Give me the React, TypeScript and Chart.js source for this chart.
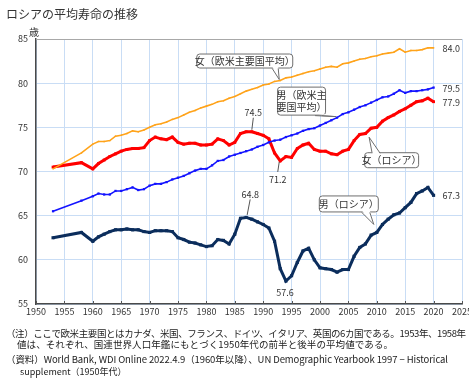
import React, { useEffect, useRef } from "react";
import { Chart, registerables } from "chart.js";
Chart.register(...registerables);

const years = [
  1953, 1958, 1960, 1961, 1962, 1963, 1964, 1965, 1966, 1967, 1968, 1969,
  1970, 1971, 1972, 1973, 1974, 1975, 1976, 1977, 1978, 1979, 1980, 1981,
  1982, 1983, 1984, 1985, 1986, 1987, 1988, 1989, 1990, 1991, 1992, 1993,
  1994, 1995, 1996, 1997, 1998, 1999, 2000, 2001, 2002, 2003, 2004, 2005,
  2006, 2007, 2008, 2009, 2010, 2011, 2012, 2013, 2014, 2015, 2016, 2017,
  2018, 2019, 2020,
];

const femaleWest = [
  70.3, 72.1, 73.1, 73.4, 73.4, 73.5, 74.0, 74.1, 74.3, 74.6, 74.5, 74.7,
  75.0, 75.3, 75.4, 75.6, 75.9, 76.1, 76.4, 76.7, 76.9, 77.2, 77.4, 77.6,
  77.9, 78.0, 78.3, 78.5, 78.8, 79.1, 79.3, 79.5, 79.8, 79.9, 80.2, 80.3,
  80.6, 80.7, 80.9, 81.1, 81.3, 81.4, 81.6, 81.8, 81.9, 81.8, 82.2, 82.3,
  82.5, 82.7, 82.8, 83.0, 83.1, 83.3, 83.4, 83.5, 83.9, 83.5, 83.7, 83.7,
  83.8, 84.0, 84.0,
];

const maleWest = [
  65.5, 66.7, 67.2, 67.5, 67.4, 67.4, 67.8, 67.8, 68.0, 68.2, 67.9, 68.0,
  68.4, 68.6, 68.6, 68.8, 69.1, 69.3, 69.5, 69.8, 70.1, 70.3, 70.3, 70.7,
  71.2, 71.3, 71.7, 71.9, 72.1, 72.3, 72.5, 72.8, 73.0, 73.3, 73.5, 73.6,
  73.9, 74.1, 74.3, 74.6, 74.8, 74.9, 75.2, 75.5, 75.8, 76.1, 76.5, 76.7,
  77.0, 77.3, 77.5, 77.8, 78.1, 78.4, 78.5, 78.8, 79.2, 78.9, 79.1, 79.1,
  79.2, 79.3, 79.5,
];

const femaleRussia = [
  70.5, 71.0, 70.3, 70.9, 71.3, 71.7, 72.0, 72.3, 72.5, 72.6, 72.6, 72.7,
  73.5, 73.9, 73.7, 73.6, 73.9, 73.3, 73.1, 73.2, 73.2, 73.0, 73.0, 73.1,
  73.7, 73.5, 73.0, 73.3, 74.3, 74.5, 74.5, 74.3, 74.1, 73.7, 72.1, 71.2,
  71.7, 71.6, 72.6, 73.0, 73.2, 72.5, 72.3, 72.3, 72.0, 71.9, 72.3, 72.5,
  73.5, 74.2, 74.3, 74.9, 75.0, 75.7, 76.1, 76.4, 76.8, 77.1, 77.5, 77.9,
  78.0, 78.3, 77.9,
];

const maleRussia = [
  62.5, 63.1, 62.1, 62.6, 62.9, 63.2, 63.4, 63.4, 63.5, 63.4, 63.4, 63.2,
  63.1, 63.3, 63.3, 63.3, 63.2, 62.5, 62.3, 62.0, 61.9, 61.7, 61.5, 61.6,
  62.3, 62.2, 61.8, 62.9, 64.7, 64.8, 64.6, 64.3, 64.0, 63.6, 62.1, 59.0,
  57.6, 58.2, 59.7, 61.0, 61.3, 60.0, 59.1, 59.0, 58.9, 58.6, 58.9, 58.9,
  60.4, 61.4, 61.8, 62.8, 63.1, 64.0, 64.6, 65.1, 65.3, 65.9, 66.5, 67.5,
  67.8, 68.2, 67.3,
];

const seriesNames = ["女（欧米主要国平均）", "男（欧米主要国平均）", "女（ロシア）", "男（ロシア）"];
const xMin = 1950;
const xMax = 2025;
const xStep = 5;
const yMin = 55;
const yMax = 85;
const yStep = 5;

const titleText = "ロシアの平均寿命の推移";
const unitText = "歳";
const noteLines = [
  "（注）ここで欧米主要国とはカナダ、米国、フランス、ドイツ、イタリア、英国の6カ国である。1953年、1958年",
  "値は、それぞれ、国連世界人口年鑑にもとづく1950年代の前半と後半の平均値である。",
  "（資料）World Bank, WDI Online 2022.4.9（1960年以降）、UN Demographic Yearbook 1997 − Historical",
  "supplement（1950年代）",
];

const FONT = "'Noto Sans CJK JP', 'Noto Sans', 'Liberation Sans', sans-serif";
const TEXT = "#333333";

function toPoints(vals: number[]) {
  return years.map((yr, i) => ({ x: yr, y: vals[i] }));
}

function pt(chart: any, dsIndex: number, year: number) {
  const i = years.indexOf(year);
  const el = chart.getDatasetMeta(dsIndex).data[i];
  return { x: el.x, y: el.y };
}

function fitText(ctx: CanvasRenderingContext2D, s: string, x: number, y: number, x2: number) {
  const c: any = ctx;
  c.letterSpacing = "0px";
  const w = ctx.measureText(s).width;
  const n = Array.from(s).length;
  const sp = (x2 - x - w) / Math.max(1, n - 1);
  c.letterSpacing = `${sp}px`;
  ctx.fillText(s, x, y);
  c.letterSpacing = "0px";
}

function drawCallout(
  ctx: CanvasRenderingContext2D,
  lines: string[],
  box: { l: number; t: number; r: number; b: number },
  b1: [number, number],
  b2: [number, number],
  tip: [number, number],
  side: "top" | "bottom"
) {
  ctx.save();
  ctx.lineWidth = 1;
  ctx.strokeStyle = "#6e6e6e";
  ctx.fillStyle = "#ffffff";
  ctx.beginPath();
  (ctx as any).roundRect(box.l + 0.5, box.t + 0.5, box.r - box.l, box.b - box.t, 3);
  ctx.fill();
  ctx.stroke();
  const inset = side === "bottom" ? -1.5 : 1.5;
  ctx.beginPath();
  ctx.moveTo(b1[0], b1[1] + inset);
  ctx.lineTo(tip[0], tip[1]);
  ctx.lineTo(b2[0], b2[1] + inset);
  ctx.closePath();
  ctx.fill();
  ctx.beginPath();
  ctx.moveTo(b1[0], b1[1] + 0.5);
  ctx.lineTo(tip[0], tip[1]);
  ctx.lineTo(b2[0], b2[1] + 0.5);
  ctx.stroke();
  ctx.fillStyle = TEXT;
  ctx.font = `10px ${FONT}`;
  ctx.textAlign = "center";
  ctx.textBaseline = "middle";
  const cx = (box.l + box.r) / 2 + 0.5;
  const lh = 12.5;
  const cy = (box.t + box.b) / 2 + 0.5;
  lines.forEach((s, k) => {
    ctx.fillText(s, cx, cy + (k - (lines.length - 1) / 2) * lh);
  });
  ctx.restore();
}

const overlay = {
  id: "overlay",
  afterDraw(chart: any) {
    const { ctx, chartArea } = chart;
    const xs = chart.scales.x;
    ctx.save();
    ctx.strokeStyle = "#a8a8a8";
    ctx.lineWidth = 1;
    ctx.beginPath();
    ctx.moveTo(chartArea.left, chartArea.top + 0.5);
    ctx.lineTo(chartArea.right, chartArea.top + 0.5);
    ctx.stroke();
    ctx.strokeStyle = "#555555";
    xs.ticks.forEach((t: any) => {
      const px = Math.round(xs.getPixelForValue(t.value)) + 0.5;
      ctx.beginPath();
      ctx.moveTo(px, chartArea.bottom);
      ctx.lineTo(px, chartArea.bottom - 3);
      ctx.stroke();
    });

    ctx.fillStyle = TEXT;
    ctx.font = `9px ${FONT}`;
    ctx.textBaseline = "middle";
    ctx.textAlign = "left";
    const last = years[years.length - 1];
    [0, 1, 2, 3].forEach((d) => {
      const p = pt(chart, d, last);
      const v = chart.data.datasets[d].data[years.length - 1].y;
      ctx.fillText(v.toFixed(1), p.x + 9, p.y + 0.5);
    });
    ctx.textAlign = "center";
    const fp = pt(chart, 2, 1988);
    ctx.fillText(femaleRussia[years.indexOf(1988)].toFixed(1), fp.x + 1.5, fp.y - 19.5);
    const fm = pt(chart, 2, 1993);
    ctx.fillText(femaleRussia[years.indexOf(1993)].toFixed(1), fm.x - 2.5, fm.y + 18.5);
    const mp = pt(chart, 3, 1987);
    ctx.fillText(maleRussia[years.indexOf(1987)].toFixed(1), mp.x + 4, mp.y - 23);
    const mm = pt(chart, 3, 1994);
    ctx.fillText(maleRussia[years.indexOf(1994)].toFixed(1), mm.x - 1, mm.y + 11.5);
    ctx.strokeStyle = "#555555";
    ctx.lineWidth = 1;
    ctx.beginPath();
    ctx.moveTo(fp.x + 1.5, fp.y - 14);
    ctx.lineTo(fp.x, fp.y - 2);
    ctx.moveTo(fm.x - 1, fm.y + 1);
    ctx.lineTo(fm.x - 2.5, fm.y + 11);
    ctx.moveTo(mp.x + 4, mp.y - 18);
    ctx.lineTo(mp.x + 1, mp.y - 2.5);
    ctx.stroke();

    const a = pt(chart, 0, 1993);
    drawCallout(ctx, [seriesNames[0]], { l: a.x - 84, t: a.y - 27, r: a.x + 12, b: a.y - 13 },
      [a.x - 8, a.y - 12.5], [a.x - 2, a.y - 12.5], [a.x - 1, a.y - 1], "bottom");
    const b = pt(chart, 1, 2003);
    drawCallout(ctx, ["男（欧米主", "要国平均）"], { l: b.x - 60, t: b.y - 31, r: b.x - 12, b: b.y - 3 },
      [b.x - 22, b.y - 2.5], [b.x - 15, b.y - 2.5], [b.x - 1, b.y - 1], "bottom");
    const c = pt(chart, 2, 2009);
    drawCallout(ctx, [seriesNames[2]], { l: c.x - 7, t: c.y + 24, r: c.x + 47, b: c.y + 39 },
      [c.x + 1, c.y + 24.5], [c.x + 9, c.y + 24.5], [c.x - 2, c.y + 9], "top");
    const dd = pt(chart, 3, 2010);
    drawCallout(ctx, [seriesNames[3]], { l: dd.x - 58, t: dd.y - 37, r: dd.x + 1, b: dd.y - 21 },
      [dd.x - 15, dd.y - 20.5], [dd.x - 7, dd.y - 20.5], [dd.x - 3, dd.y - 8], "bottom");

    ctx.fillStyle = TEXT;
    ctx.textAlign = "left";
    ctx.textBaseline = "middle";
    ctx.font = `12px ${FONT}`;
    ctx.fillText(titleText, 6, 14);
    ctx.font = `10px ${FONT}`;
    ctx.fillText(unitText, 29, 32);
    ctx.font = `9.5px ${FONT}`;
    ctx.fillStyle = "#222222";
    fitText(ctx, noteLines[0], 6, 333, 466);
    fitText(ctx, noteLines[1], 17, 344.5, 393);
    fitText(ctx, noteLines[2], 6, 359, 448);
    ctx.font = `9px ${FONT}`;
    ctx.fillText(noteLines[3], 20, 372);
    ctx.restore();
  },
};

export default function App() {
  const ref = useRef<HTMLCanvasElement | null>(null);
  useEffect(() => {
    if (!ref.current) return;
    const grid = "#c9ddf5";
    const chart = new Chart(ref.current, {
      type: "line",
      data: {
        datasets: [
          {
            label: seriesNames[0],
            data: toPoints(femaleWest),
            borderColor: "#ffa31a",
            backgroundColor: "#ffa31a",
            borderWidth: 1.6,
            pointRadius: 1,
            pointStyle: "rect",
            pointBorderWidth: 0,
            tension: 0,
          },
          {
            label: seriesNames[1],
            data: toPoints(maleWest),
            borderColor: "#1414ff",
            backgroundColor: "#1414ff",
            borderWidth: 1.6,
            pointRadius: 1.6,
            pointStyle: "rect",
            pointBorderWidth: 0,
            tension: 0,
          },
          {
            label: seriesNames[2],
            data: toPoints(femaleRussia),
            borderColor: "#ff0000",
            backgroundColor: "#ff0000",
            borderWidth: 3,
            pointRadius: 2,
            pointStyle: "rect",
            pointBorderWidth: 0,
            tension: 0,
          },
          {
            label: seriesNames[3],
            data: toPoints(maleRussia),
            borderColor: "#0b2d5c",
            backgroundColor: "#0b2d5c",
            borderWidth: 3,
            pointRadius: 2.2,
            pointStyle: "rect",
            pointBorderWidth: 0,
            tension: 0,
          },
        ],
      },
      options: {
        animation: false,
        responsive: false,
        layout: { padding: { top: 39, left: 0, right: 18, bottom: 61 } },
        plugins: { legend: { display: false }, tooltip: { enabled: false } },
        scales: {
          x: {
            type: "linear",
            min: xMin,
            max: xMax,
            afterFit: (s: any) => {
              s.height = 20;
            },
            ticks: {
              stepSize: xStep,
              color: TEXT,
              font: { family: FONT, size: 9 },
              padding: 2,
              maxRotation: 0,
              autoSkip: false,
              callback: (v: any) => String(v),
            },
            grid: { color: grid, drawTicks: false, lineWidth: 1 },
            border: { color: "#4a4a4a", width: 1.5 },
          },
          y: {
            min: yMin,
            max: yMax,
            afterFit: (s: any) => {
              s.width = 36;
            },
            ticks: {
              stepSize: yStep,
              color: TEXT,
              font: { family: FONT, size: 9 },
              padding: 8,
            },
            grid: { color: grid, drawTicks: false, lineWidth: 1 },
            border: { color: "#4a4a4a", width: 1.5 },
          },
        },
      } as any,
      plugins: [overlay],
    });
    return () => chart.destroy();
  }, []);
  return (
    <div
      style={{
        position: "absolute",
        left: 0,
        top: 0,
        width: 469,
        height: 385,
        overflow: "hidden",
        background: "#ffffff",
      }}
    >
      <canvas ref={ref} width={480} height={385} style={{ width: 480, height: 385, display: "block" }} />
    </div>
  );
}
